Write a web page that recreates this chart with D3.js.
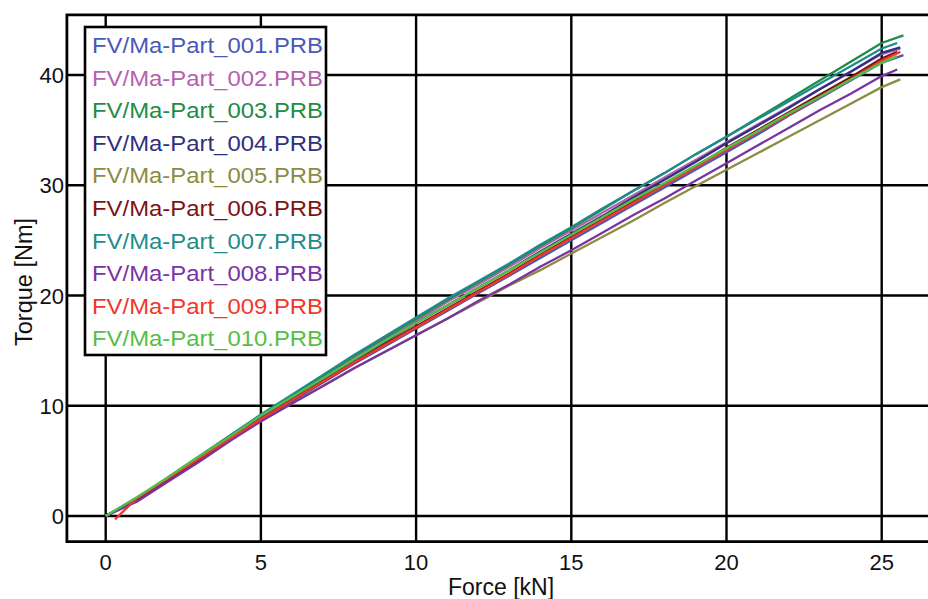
<!DOCTYPE html>
<html>
<head>
<meta charset="utf-8">
<script src="https://cdn.jsdelivr.net/npm/d3@7"></script>
<style>
  html, body { margin: 0; padding: 0; background: #fff; }
  svg { display: block; }
  text { font-family: "Liberation Sans", Arial, Helvetica, sans-serif; }
</style>
</head>
<body>
<svg id="chart" width="928" height="599"></svg>
<script>
// ---------------- data ----------------
const seriesNames = [
  "FV/Ma-Part_001.PRB", "FV/Ma-Part_002.PRB", "FV/Ma-Part_003.PRB", "FV/Ma-Part_004.PRB",
  "FV/Ma-Part_005.PRB", "FV/Ma-Part_006.PRB", "FV/Ma-Part_007.PRB", "FV/Ma-Part_008.PRB",
  "FV/Ma-Part_009.PRB", "FV/Ma-Part_010.PRB"
];
const seriesColors = [
  "#4a58b8", "#b462ae", "#1e8c46", "#302f80", "#8c8c42",
  "#7c1414", "#1f8c8c", "#7a34a2", "#f0382a", "#55be46"
];
// Force [kN] sample positions
const force = [0,1,2,3,4,5,6,7,8,9,10,11,12,13,14,15,16,17,18,19,20,21,22,23,24,25];
// Torque [Nm] per part at the force positions above
const torque001 = [0,1.4,3.2,5.0,6.9,8.7,10.4,12.1,13.8,15.4,17.0,18.6,20.2,21.8,23.4,25.0,26.6,28.2,29.8,31.4,33.0,34.6,36.3,37.9,39.5,41.1];
const torque002 = [0,1.5,3.3,5.2,7.1,9.0,10.8,12.5,14.3,16.0,17.7,19.4,21.0,22.6,24.3,25.9,27.5,29.1,30.7,32.3,33.9,35.5,37.1,38.7,40.3,41.9];
const torque003 = [0,1.6,3.4,5.3,7.2,9.1,10.9,12.7,14.5,16.2,17.9,19.6,21.2,22.8,24.5,26.1,27.8,29.5,31.1,32.8,34.4,36.1,37.8,39.5,41.2,42.9];
const torque004 = [0,1.5,3.3,5.1,7.0,8.9,10.7,12.4,14.1,15.8,17.5,19.1,20.7,22.3,24.0,25.6,27.2,28.9,30.5,32.1,33.8,35.4,37.0,38.7,40.3,42.0];
const torque005 = [0,1.5,3.3,5.1,6.9,8.6,10.2,11.8,13.4,14.9,16.4,17.9,19.4,20.9,22.3,23.8,25.3,26.8,28.4,29.9,31.4,32.9,34.4,35.9,37.4,38.9];
const torque006 = [0,1.5,3.3,5.1,6.9,8.8,10.5,12.2,13.9,15.6,17.2,18.8,20.4,22.0,23.7,25.3,26.9,28.5,30.1,31.7,33.4,35.0,36.6,38.2,39.8,41.5];
const torque007 = [0,1.6,3.5,5.4,7.3,9.2,11.0,12.8,14.6,16.3,18.0,19.7,21.3,22.9,24.6,26.2,27.9,29.5,31.1,32.8,34.4,36.0,37.6,39.2,40.8,42.4];
const torque008 = [0,1.3,3.1,4.9,6.8,8.6,10.2,11.8,13.4,14.9,16.4,17.9,19.5,21.0,22.6,24.1,25.7,27.3,28.8,30.4,32.0,33.6,35.2,36.8,38.3,39.9];
const torque009 = [-0.3,1.6,3.4,5.2,7.0,8.8,10.5,12.2,13.9,15.5,17.1,18.7,20.3,21.9,23.6,25.2,26.8,28.4,30.0,31.6,33.2,34.8,36.4,38.0,39.6,41.3];
const torque010 = [0,1.7,3.5,5.4,7.2,9.1,10.8,12.5,14.2,15.9,17.5,19.1,20.7,22.3,23.9,25.5,27.1,28.7,30.2,31.8,33.35,34.9,36.5,38.0,39.6,41.1];
const allTorque = [torque001, torque002, torque003, torque004, torque005, torque006, torque007, torque008, torque009, torque010];
// first force sample per part (part 009 starts slightly offset)
const startForce = [0,0,0,0,0,0,0,0,0.3,0];
// final sample per part
const endForce  = [25.7, 25.6, 25.7, 25.6, 25.6, 25.5, 25.5, 25.5, 25.6, 25.5];
const endTorque = [41.8, 42.4, 43.6, 42.5, 39.6, 42.1, 42.9, 40.5, 42.1, 41.7];
// axis ticks
const xTicks = [0, 5, 10, 15, 20, 25];
const yTicks = [0, 10, 20, 30, 40];

// ---------------- drawing ----------------
const svg = d3.select("#chart");
const x = d3.scaleLinear().domain([0, 25]).range([105.7, 881.7]);
const y = d3.scaleLinear().domain([0, 40]).range([516, 75]);
const xMin = -1.25, xMax = 26.6, yMin = -2.33, yMax = 45.45;

// grid lines
const grid = svg.append("g");
grid.selectAll("line.vx").data(xTicks).join("line")
  .attr("x1", d => x(d)).attr("x2", d => x(d))
  .attr("y1", y(yMin)).attr("y2", y(yMax))
  .attr("stroke", "#000").attr("stroke-width", 2.4);
grid.selectAll("line.hy").data(yTicks).join("line")
  .attr("x1", x(xMin)).attr("x2", x(xMax))
  .attr("y1", d => y(d)).attr("y2", d => y(d))
  .attr("stroke", "#000").attr("stroke-width", 2.4);

// data lines
const line = d3.line().x(d => x(d[0])).y(d => y(d[1]));
const seriesData = allTorque.map((vals, i) => {
  const pts = vals.map((v, k) => [k === 0 ? startForce[i] : force[k], v]);
  pts.push([endForce[i], endTorque[i]]);
  return pts;
});
svg.append("g").selectAll("path").data(seriesData).join("path")
  .attr("d", line)
  .attr("fill", "none")
  .attr("stroke", (d, i) => seriesColors[i])
  .attr("stroke-width", 2.3)
  .attr("stroke-linejoin", "round");

// frame (left, top, bottom; right edge is cropped)
const frame = svg.append("g").attr("stroke", "#000").attr("stroke-width", 2.8).attr("fill", "none");
frame.append("path")
  .attr("d", `M${x(xMax)},${y(yMax)} L${x(xMin)},${y(yMax)} L${x(xMin)},${y(yMin)} L${x(xMax)},${y(yMin)}`);

// tick labels
svg.append("g").selectAll("text").data(xTicks).join("text")
  .attr("x", d => x(d)).attr("y", 570)
  .attr("text-anchor", "middle")
  .attr("font-size", 22)
  .attr("fill", "#111")
  .text(d => d);
svg.append("g").selectAll("text").data(yTicks).join("text")
  .attr("x", 64).attr("y", d => y(d) + 8)
  .attr("text-anchor", "end")
  .attr("font-size", 22)
  .attr("fill", "#111")
  .text(d => d);

// axis titles
svg.append("text")
  .attr("x", 501).attr("y", 595)
  .attr("text-anchor", "middle")
  .attr("font-size", 23)
  .attr("fill", "#111")
  .text("Force [kN]");
svg.append("text")
  .attr("transform", "translate(32,282) rotate(-90)")
  .attr("text-anchor", "middle")
  .attr("font-size", 23.5)
  .attr("fill", "#111")
  .text("Torque [Nm]");

// legend
const legend = svg.append("g");
legend.append("rect")
  .attr("x", 85).attr("y", 27).attr("width", 241).attr("height", 328)
  .attr("fill", "#fff").attr("stroke", "#000").attr("stroke-width", 2.6);
legend.selectAll("text").data(seriesNames).join("text")
  .attr("x", 92)
  .attr("y", (d, i) => 53 + i * 32.6)
  .attr("font-size", 22)
  .attr("textLength", 231)
  .attr("lengthAdjust", "spacingAndGlyphs")
  .attr("fill", (d, i) => seriesColors[i])
  .text(d => d);
</script>
</body>
</html>
